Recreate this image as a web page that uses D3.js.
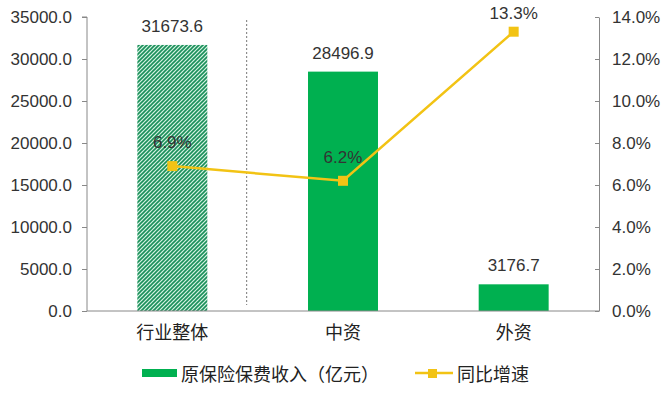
<!DOCTYPE html>
<html><head><meta charset="utf-8">
<script src="https://cdn.jsdelivr.net/npm/d3@7"></script>
<style>body{margin:0;background:#fff}svg{display:block}text{font-family:"Liberation Sans",Arial,"Noto Sans CJK SC",sans-serif}</style>
</head><body><svg id="c" width="667" height="399"></svg>
<script>
const categories = ["行业整体", "中资", "外资"];
const premiums = [31673.6, 28496.9, 3176.7];
const growth = [6.9, 6.2, 13.3];
const leftTicks = [0, 5000, 10000, 15000, 20000, 25000, 30000, 35000];
const rightTicks = [0, 2, 4, 6, 8, 10, 12, 14];
const seriesNames = ["原保险保费收入（亿元）", "同比增速"];

const svg = d3.select("#c");
const L = 87, R = 599, T = 17, B = 311;
const x = d3.scaleBand().domain(categories).range([L, R]).paddingInner(0.59).paddingOuter(0.295);
const y = d3.scaleLinear().domain([0, 35000]).range([B, T]);
const y2 = d3.scaleLinear().domain([0, 14]).range([B, T]);
const green = "#00B050", gold = "#F2C314";
const cjk = '"Noto Sans CJK SC",sans-serif';

const defs = svg.append("defs");
const pat = defs.append("pattern").attr("id", "hatch").attr("patternUnits", "userSpaceOnUse")
  .attr("width", 4).attr("height", 4);
pat.append("rect").attr("width", 4).attr("height", 4).attr("fill", "#d4f3e2");
pat.append("path").attr("d", "M-1,1 l2,-2 M0,4 l4,-4 M3,5 l2,-2").attr("stroke", "#1a8f5a").attr("stroke-width", 1.6);

// bars
svg.selectAll("rect.bar").data(premiums).join("rect").attr("class", "bar")
  .attr("x", (d, i) => x(categories[i])).attr("width", x.bandwidth())
  .attr("y", d => y(d)).attr("height", d => B - y(d))
  .attr("fill", (d, i) => i === 0 ? "url(#hatch)" : green);

// dashed separator
const sepX = (x(categories[0]) + x.bandwidth() + x(categories[1])) / 2;
svg.append("line").attr("x1", sepX - 11).attr("x2", sepX - 11).attr("y1", T + 3).attr("y2", B - 6)
  .attr("stroke", "#555").attr("stroke-width", 0.8).attr("stroke-dasharray", "2,2");

function pct(sel, v) {
  sel.text(null);
  sel.append("tspan").text(v.toFixed(1));
  sel.append("tspan").attr("font-family", '"Liberation Sans Narrow","Liberation Sans",Arial,sans-serif').text("%");
}

// axes
const ax = d3.axisLeft(y).tickValues(leftTicks).tickSize(5).tickFormat(d => d3.format(".1f")(d));
const gl = svg.append("g").attr("transform", `translate(${L},0)`).call(ax);
const ar = d3.axisRight(y2).tickValues(rightTicks).tickSizeInner(-4).tickSizeOuter(0).tickFormat(d => d.toFixed(1) + "%");
const gr = svg.append("g").attr("transform", `translate(${R},0)`).call(ar);
[gl, gr].forEach(g => {
  g.select(".domain").attr("stroke", "#888");
  g.selectAll(".tick line").attr("stroke", "#888");
  g.selectAll(".tick text").attr("font-size", 17).attr("fill", "#333").attr("font-family", '"Liberation Sans",Arial,sans-serif');
});
gl.select(".domain").attr("d", `M-5,${T}H0V${B}`);
gr.selectAll(".tick text").attr("x", 13).each(function(d) { pct(d3.select(this), d); });
gl.selectAll(".tick text").attr("x", -15);
// bottom axis line
svg.append("line").attr("x1", L).attr("x2", R).attr("y1", B).attr("y2", B).attr("stroke", "#888");
svg.selectAll("text.cat").data(categories).join("text").attr("class", "cat")
  .attr("x", d => x(d) + x.bandwidth() / 2).attr("y", 339).attr("text-anchor", "middle")
  .attr("font-size", 18).attr("fill", "#222").attr("font-family", cjk).text(d => d);

// bar labels
svg.selectAll("text.bl").data(premiums).join("text").attr("class", "bl")
  .attr("x", (d, i) => x(categories[i]) + x.bandwidth() / 2).attr("y", d => y(d) - 13)
  .attr("text-anchor", "middle").attr("font-size", 17).attr("fill", "#333").text(d => d.toFixed(1));

// line
const cx = i => x(categories[i]) + x.bandwidth() / 2;
const line = d3.line().x((d, i) => cx(i)).y(d => y2(d));
svg.append("path").datum(growth).attr("d", line).attr("fill", "none").attr("stroke", gold).attr("stroke-width", 2.5);
svg.selectAll("rect.mk").data(growth).join("rect").attr("class", "mk")
  .attr("x", (d, i) => cx(i) - 5).attr("y", d => y2(d) - 5).attr("width", 10).attr("height", 10).attr("fill", gold);
svg.selectAll("text.gl").data(growth).join("text").attr("class", "gl")
  .attr("x", (d, i) => cx(i)).attr("y", d => Math.max(19, y2(d) - 18))
  .attr("text-anchor", "middle").attr("font-size", 17).attr("fill", "#333")
  .each(function(d) { pct(d3.select(this), d); });

// legend
const lg = svg.append("g");
lg.append("rect").attr("x", 142).attr("y", 369).attr("width", 35).attr("height", 8).attr("fill", green);
lg.append("text").attr("x", 181).attr("y", 381).attr("font-size", 18).attr("fill", "#222")
  .attr("font-family", cjk).text(seriesNames[0]);
lg.append("line").attr("x1", 415).attr("x2", 453).attr("y1", 373).attr("y2", 373).attr("stroke", gold).attr("stroke-width", 2.5);
lg.append("rect").attr("x", 428).attr("y", 369).attr("width", 9).attr("height", 9).attr("fill", gold);
lg.append("text").attr("x", 457).attr("y", 381).attr("font-size", 18).attr("fill", "#222")
  .attr("font-family", cjk).text(seriesNames[1]);
</script></body></html>
